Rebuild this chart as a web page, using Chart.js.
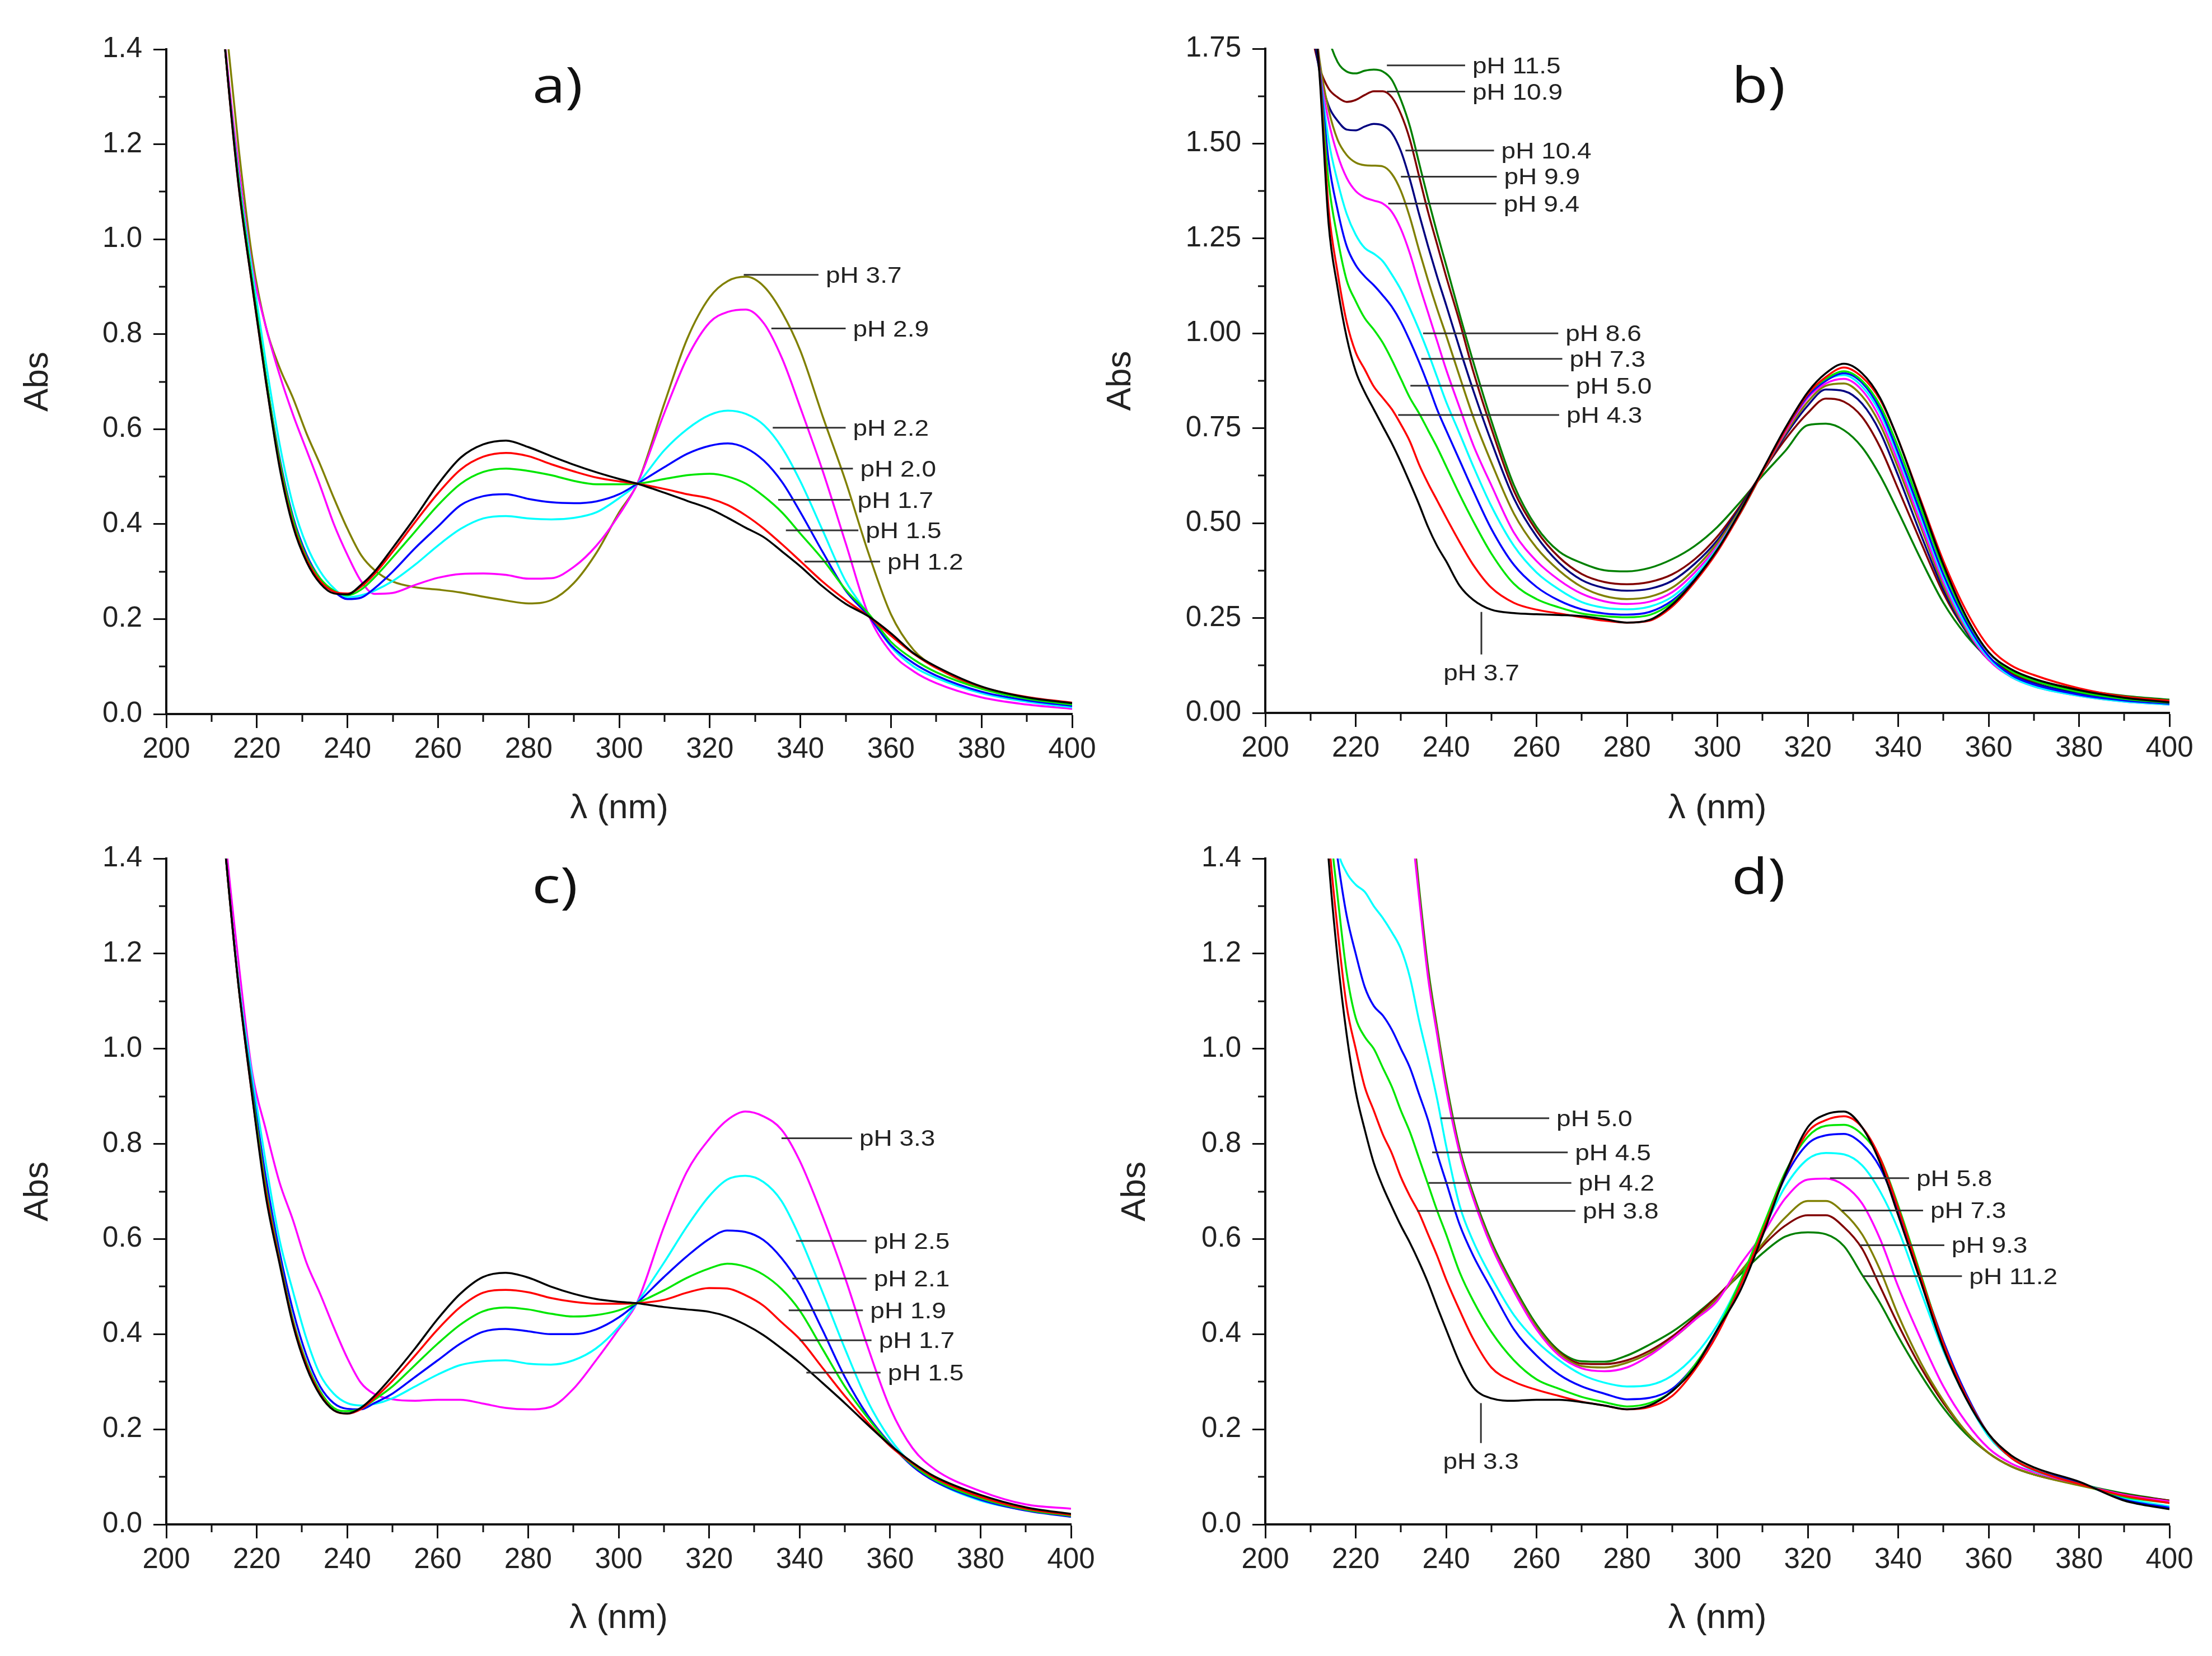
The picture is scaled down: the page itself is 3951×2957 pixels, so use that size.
<!DOCTYPE html>
<html>
<head>
<meta charset="utf-8">
<script src="https://cdn.jsdelivr.net/npm/chart.js@4.4.1/dist/chart.umd.min.js"></script>
<style>
  html, body { margin: 0; padding: 0; background: #fff; }
  #page { position: relative; width: 3951px; height: 2957px; background: #fff; overflow: hidden; }
  #page canvas { position: absolute; }
</style>
</head>
<body>
<div id="page">
  <canvas id="panelA" width="1975" height="1478" style="left:0px;top:0px"></canvas>
  <canvas id="panelB" width="2011" height="1478" style="left:1940px;top:0px"></canvas>
  <canvas id="panelC" width="1975" height="1479" style="left:0px;top:1478px"></canvas>
  <canvas id="panelD" width="2011" height="1479" style="left:1940px;top:1478px"></canvas>
</div>
<script>
'use strict'

// wavelength grids (nm)
const WL_AC = [210, 213, 216, 219, 222, 225, 228, 231, 234, 237,
               240, 243, 246, 250, 255, 260, 265, 270, 275, 280,
               285, 290, 295, 300, 304, 310, 315, 320, 324, 328,
               332, 336, 340, 345, 350, 355, 360, 365, 370, 380,
               390, 400];
const WL_BD = [210, 212, 214, 216, 218, 220, 222, 224, 226, 228,
               230, 232, 234, 236, 238, 240, 243, 246, 250, 255,
               260, 265, 270, 275, 280, 285, 290, 295, 300, 305,
               310, 315, 320, 324, 328, 332, 336, 340, 345, 350,
               355, 360, 365, 370, 380, 390, 400];

// panel a)
const A_PH12 = [1.75, 1.40, 1.11, 0.90, 0.70, 0.52, 0.395, 0.32, 0.275, 0.254,
                0.252, 0.272, 0.30, 0.35, 0.415, 0.484, 0.54, 0.568, 0.576, 0.562,
                0.543, 0.525, 0.509, 0.495, 0.485, 0.466, 0.449, 0.432, 0.413, 0.392,
                0.372, 0.342, 0.311, 0.268, 0.232, 0.206, 0.17, 0.128, 0.10, 0.058,
                0.035, 0.023];
const A_PH15 = [1.75, 1.40, 1.11, 0.90, 0.70, 0.525, 0.40, 0.325, 0.28, 0.258,
                0.254, 0.268, 0.295, 0.342, 0.405, 0.465, 0.515, 0.542, 0.55, 0.543,
                0.526, 0.511, 0.498, 0.49, 0.485, 0.474, 0.463, 0.454, 0.44, 0.418,
                0.39, 0.357, 0.322, 0.278, 0.24, 0.206, 0.165, 0.127, 0.097, 0.057,
                0.036, 0.024];
const A_PH17 = [1.75, 1.40, 1.12, 0.91, 0.71, 0.535, 0.41, 0.33, 0.285, 0.26,
                0.25, 0.262, 0.288, 0.33, 0.385, 0.44, 0.485, 0.51, 0.517, 0.512,
                0.503, 0.491, 0.484, 0.484, 0.485, 0.495, 0.503, 0.506, 0.50, 0.485,
                0.458, 0.424, 0.38, 0.325, 0.262, 0.212, 0.152, 0.115, 0.088, 0.053,
                0.032, 0.02];
const A_PH20 = [1.75, 1.40, 1.12, 0.91, 0.71, 0.54, 0.415, 0.335, 0.285, 0.258,
                0.242, 0.245, 0.265, 0.30, 0.35, 0.395, 0.44, 0.459, 0.463, 0.453,
                0.446, 0.444, 0.448, 0.463, 0.485, 0.52, 0.548, 0.565, 0.57, 0.56,
                0.533, 0.488, 0.425, 0.34, 0.26, 0.207, 0.145, 0.107, 0.081, 0.047,
                0.029, 0.017];
const A_PH22 = [1.75, 1.40, 1.13, 0.93, 0.74, 0.57, 0.44, 0.355, 0.30, 0.265,
                0.246, 0.25, 0.26, 0.28, 0.315, 0.355, 0.39, 0.412, 0.417, 0.412,
                0.41, 0.413, 0.425, 0.455, 0.485, 0.556, 0.60, 0.63, 0.639, 0.632,
                0.608, 0.56, 0.49, 0.385, 0.28, 0.21, 0.142, 0.10, 0.076, 0.044,
                0.026, 0.014];
const A_PH29 = [1.75, 1.41, 1.15, 0.94, 0.815, 0.715, 0.63, 0.555, 0.48, 0.40,
                0.335, 0.28, 0.253, 0.255, 0.272, 0.287, 0.295, 0.296, 0.293, 0.285,
                0.286, 0.31, 0.355, 0.42, 0.485, 0.635, 0.75, 0.825, 0.847, 0.852,
                0.822, 0.748, 0.645, 0.51, 0.36, 0.21, 0.13, 0.09, 0.065, 0.035,
                0.02, 0.011];
const A_PH37 = [1.80, 1.47, 1.19, 0.96, 0.815, 0.73, 0.665, 0.59, 0.525, 0.455,
                0.39, 0.335, 0.303, 0.279, 0.267, 0.262, 0.256, 0.247, 0.239, 0.233,
                0.24, 0.276, 0.34, 0.425, 0.485, 0.655, 0.79, 0.878, 0.912, 0.921,
                0.90, 0.845, 0.765, 0.625, 0.49, 0.34, 0.21, 0.135, 0.098, 0.055,
                0.033, 0.023];

// panel b)
const B_PH37 = [1.95, 1.68, 1.29, 1.12, 0.99, 0.90, 0.845, 0.80, 0.755, 0.71,
                0.66, 0.606, 0.55, 0.49, 0.44, 0.40, 0.335, 0.298, 0.272, 0.263,
                0.26, 0.258, 0.255, 0.247, 0.238, 0.245, 0.285, 0.35, 0.43, 0.53,
                0.64, 0.75, 0.845, 0.895, 0.92, 0.895, 0.83, 0.72, 0.555, 0.39,
                0.255, 0.16, 0.115, 0.09, 0.06, 0.04, 0.028];
const B_PH43 = [1.95, 1.69, 1.33, 1.16, 1.03, 0.95, 0.905, 0.86, 0.83, 0.80,
                0.76, 0.715, 0.655, 0.605, 0.56, 0.515, 0.45, 0.39, 0.33, 0.29,
                0.272, 0.262, 0.252, 0.243, 0.238, 0.243, 0.28, 0.345, 0.425, 0.525,
                0.635, 0.745, 0.84, 0.885, 0.91, 0.885, 0.825, 0.72, 0.56, 0.40,
                0.27, 0.175, 0.125, 0.10, 0.065, 0.043, 0.032];
const B_PH50 = [1.95, 1.69, 1.40, 1.25, 1.14, 1.085, 1.04, 1.01, 0.975, 0.93,
                0.88, 0.83, 0.79, 0.745, 0.70, 0.65, 0.575, 0.505, 0.42, 0.34,
                0.30, 0.278, 0.262, 0.255, 0.252, 0.258, 0.29, 0.35, 0.43, 0.525,
                0.635, 0.745, 0.84, 0.88, 0.90, 0.875, 0.81, 0.70, 0.54, 0.38,
                0.25, 0.16, 0.11, 0.085, 0.055, 0.037, 0.027];
const B_PH73 = [1.95, 1.70, 1.455, 1.325, 1.23, 1.18, 1.15, 1.127, 1.10, 1.07,
                1.03, 0.98, 0.925, 0.865, 0.80, 0.745, 0.665, 0.585, 0.485, 0.39,
                0.332, 0.296, 0.273, 0.262, 0.259, 0.266, 0.296, 0.352, 0.43, 0.525,
                0.635, 0.745, 0.835, 0.875, 0.895, 0.87, 0.80, 0.685, 0.525, 0.365,
                0.24, 0.15, 0.10, 0.075, 0.048, 0.033, 0.024];
const B_PH86 = [1.95, 1.70, 1.51, 1.40, 1.315, 1.26, 1.225, 1.21, 1.19, 1.155,
                1.115, 1.065, 1.01, 0.95, 0.885, 0.82, 0.736, 0.65, 0.545, 0.44,
                0.37, 0.325, 0.292, 0.277, 0.273, 0.28, 0.306, 0.36, 0.435, 0.53,
                0.635, 0.745, 0.835, 0.877, 0.89, 0.86, 0.79, 0.675, 0.515, 0.355,
                0.23, 0.145, 0.095, 0.07, 0.045, 0.03, 0.022];
const B_PH94 = [1.95, 1.70, 1.56, 1.47, 1.41, 1.375, 1.358, 1.35, 1.342, 1.32,
                1.275, 1.21, 1.13, 1.055, 0.98, 0.905, 0.804, 0.706, 0.60, 0.475,
                0.40, 0.35, 0.314, 0.294, 0.287, 0.293, 0.318, 0.37, 0.44, 0.53,
                0.635, 0.74, 0.83, 0.868, 0.88, 0.85, 0.775, 0.66, 0.50, 0.345,
                0.225, 0.14, 0.095, 0.07, 0.045, 0.03, 0.022];
const B_PH99 = [1.95, 1.72, 1.59, 1.51, 1.47, 1.45, 1.443, 1.442, 1.44, 1.42,
                1.375, 1.305, 1.22, 1.14, 1.065, 0.995, 0.886, 0.78, 0.66, 0.525,
                0.435, 0.375, 0.332, 0.308, 0.30, 0.306, 0.33, 0.38, 0.448, 0.535,
                0.635, 0.735, 0.82, 0.862, 0.868, 0.835, 0.76, 0.645, 0.49, 0.335,
                0.22, 0.14, 0.095, 0.072, 0.047, 0.032, 0.023];
const B_PH104 = [1.85, 1.69, 1.60, 1.56, 1.537, 1.535, 1.545, 1.552, 1.548, 1.528,
                 1.48, 1.405, 1.315, 1.23, 1.15, 1.075, 0.96, 0.85, 0.715, 0.565,
                 0.465, 0.395, 0.35, 0.329, 0.322, 0.327, 0.348, 0.393, 0.455, 0.54,
                 0.635, 0.73, 0.81, 0.852, 0.848, 0.815, 0.74, 0.625, 0.47, 0.325,
                 0.215, 0.14, 0.10, 0.078, 0.052, 0.036, 0.026];
const B_PH109 = [1.80, 1.70, 1.645, 1.622, 1.61, 1.615, 1.628, 1.638, 1.638, 1.622,
                 1.578, 1.51, 1.415, 1.32, 1.235, 1.15, 1.03, 0.90, 0.75, 0.585,
                 0.48, 0.41, 0.366, 0.345, 0.339, 0.345, 0.365, 0.405, 0.465, 0.545,
                 0.635, 0.72, 0.79, 0.828, 0.82, 0.78, 0.70, 0.59, 0.45, 0.315,
                 0.215, 0.145, 0.105, 0.083, 0.058, 0.04, 0.03];
const B_PH115 = [2.10, 1.90, 1.78, 1.715, 1.69, 1.685, 1.692, 1.695, 1.69, 1.668,
                 1.615, 1.545, 1.45, 1.355, 1.265, 1.18, 1.05, 0.925, 0.77, 0.60,
                 0.49, 0.425, 0.395, 0.376, 0.373, 0.382, 0.405, 0.44, 0.49, 0.555,
                 0.625, 0.69, 0.758, 0.762, 0.745, 0.70, 0.625, 0.53, 0.405, 0.29,
                 0.205, 0.145, 0.11, 0.088, 0.062, 0.045, 0.035];

// panel c)
const C_PH15 = [1.75, 1.42, 1.13, 0.90, 0.69, 0.55, 0.42, 0.33, 0.272, 0.24,
                0.233, 0.245, 0.27, 0.312, 0.37, 0.432, 0.485, 0.52, 0.529, 0.519,
                0.50, 0.485, 0.474, 0.468, 0.465, 0.457, 0.452, 0.447, 0.437, 0.42,
                0.398, 0.37, 0.34, 0.298, 0.255, 0.21, 0.167, 0.13, 0.10, 0.062,
                0.036, 0.022];
const C_PH17 = [1.75, 1.42, 1.13, 0.90, 0.70, 0.555, 0.425, 0.335, 0.275, 0.24,
                0.233, 0.242, 0.265, 0.302, 0.355, 0.41, 0.457, 0.487, 0.493, 0.488,
                0.476, 0.468, 0.464, 0.464, 0.465, 0.472, 0.487, 0.497, 0.496, 0.482,
                0.46, 0.425, 0.39, 0.33, 0.27, 0.215, 0.165, 0.128, 0.097, 0.058,
                0.033, 0.02];
const C_PH19 = [1.75, 1.42, 1.13, 0.91, 0.71, 0.56, 0.43, 0.34, 0.28, 0.245,
                0.238, 0.243, 0.262, 0.29, 0.335, 0.38, 0.42, 0.448, 0.456, 0.452,
                0.443, 0.437, 0.44, 0.45, 0.465, 0.492, 0.518, 0.538, 0.548, 0.542,
                0.525, 0.495, 0.45, 0.37, 0.29, 0.225, 0.168, 0.125, 0.093, 0.055,
                0.031, 0.018];
const C_PH21 = [1.75, 1.42, 1.13, 0.92, 0.73, 0.575, 0.45, 0.355, 0.29, 0.255,
                0.243, 0.242, 0.255, 0.275, 0.31, 0.345, 0.38, 0.405, 0.411, 0.406,
                0.40, 0.40, 0.41, 0.435, 0.465, 0.52, 0.563, 0.60, 0.618, 0.615,
                0.598, 0.56, 0.505, 0.41, 0.31, 0.23, 0.17, 0.122, 0.09, 0.052,
                0.029, 0.016];
const C_PH25 = [1.75, 1.42, 1.14, 0.94, 0.76, 0.60, 0.49, 0.39, 0.315, 0.275,
                0.255, 0.25, 0.253, 0.265, 0.29, 0.315, 0.335, 0.343, 0.345, 0.338,
                0.336, 0.345, 0.37, 0.415, 0.465, 0.55, 0.625, 0.69, 0.725, 0.733,
                0.72, 0.68, 0.605, 0.49, 0.37, 0.26, 0.18, 0.125, 0.09, 0.05,
                0.03, 0.019];
const C_PH33 = [1.80, 1.45, 1.18, 0.95, 0.83, 0.72, 0.64, 0.55, 0.485, 0.415,
                0.35, 0.298, 0.274, 0.263, 0.26, 0.262, 0.262, 0.254, 0.245, 0.242,
                0.247, 0.285, 0.345, 0.41, 0.465, 0.625, 0.74, 0.81, 0.85, 0.868,
                0.858, 0.83, 0.765, 0.65, 0.52, 0.375, 0.245, 0.16, 0.115, 0.07,
                0.042, 0.033];

// panel d)
const D_PH33 = [2.0, 1.70, 1.40, 1.19, 1.03, 0.91, 0.83, 0.76, 0.71, 0.668,
                0.628, 0.592, 0.552, 0.508, 0.458, 0.41, 0.34, 0.288, 0.265, 0.26,
                0.262, 0.262, 0.257, 0.25, 0.242, 0.25, 0.28, 0.33, 0.41, 0.49,
                0.607, 0.735, 0.835, 0.862, 0.868, 0.835, 0.76, 0.65, 0.51, 0.37,
                0.265, 0.19, 0.145, 0.12, 0.09, 0.05, 0.032];
const D_PH38 = [2.0, 1.75, 1.45, 1.25, 1.09, 1.0, 0.92, 0.87, 0.82, 0.78,
                0.73, 0.69, 0.655, 0.61, 0.565, 0.515, 0.45, 0.39, 0.33, 0.30,
                0.283, 0.27, 0.258, 0.25, 0.242, 0.247, 0.27, 0.325, 0.40, 0.50,
                0.615, 0.735, 0.825, 0.85, 0.858, 0.835, 0.77, 0.665, 0.52, 0.38,
                0.27, 0.19, 0.14, 0.115, 0.085, 0.06, 0.045];
const D_PH42 = [2.0, 1.75, 1.50, 1.32, 1.16, 1.065, 1.025, 1.0, 0.96, 0.92,
                0.87, 0.825, 0.77, 0.715, 0.66, 0.61, 0.53, 0.47, 0.405, 0.345,
                0.305, 0.285, 0.268, 0.257, 0.248, 0.255, 0.28, 0.335, 0.41, 0.51,
                0.625, 0.74, 0.815, 0.838, 0.84, 0.82, 0.77, 0.67, 0.525, 0.38,
                0.27, 0.19, 0.14, 0.115, 0.085, 0.058, 0.045];
const D_PH45 = [2.0, 1.76, 1.55, 1.40, 1.28, 1.20, 1.13, 1.09, 1.07, 1.04,
                1.0, 0.96, 0.905, 0.85, 0.78, 0.72, 0.63, 0.565, 0.495, 0.41,
                0.355, 0.315, 0.29, 0.275, 0.263, 0.266, 0.285, 0.335, 0.405, 0.505,
                0.615, 0.73, 0.80, 0.818, 0.821, 0.80, 0.75, 0.66, 0.52, 0.385,
                0.275, 0.19, 0.14, 0.115, 0.088, 0.052, 0.035];
const D_PH50 = [2.0, 1.75, 1.55, 1.42, 1.37, 1.345, 1.33, 1.30, 1.275, 1.245,
                1.21, 1.15, 1.06, 0.98, 0.895, 0.796, 0.67, 0.595, 0.52, 0.44,
                0.385, 0.345, 0.315, 0.298, 0.29, 0.293, 0.313, 0.355, 0.42, 0.51,
                0.615, 0.71, 0.768, 0.781, 0.778, 0.755, 0.70, 0.62, 0.49, 0.365,
                0.265, 0.185, 0.14, 0.113, 0.088, 0.055, 0.038];
const D_PH58 = [2.6, 2.5, 2.4, 2.3, 2.25, 2.2, 2.15, 2.1, 2.05, 1.9,
                1.7, 1.5, 1.32, 1.15, 1.03, 0.915, 0.78, 0.685, 0.585, 0.49,
                0.41, 0.355, 0.328, 0.322, 0.33, 0.355, 0.39, 0.43, 0.47, 0.545,
                0.61, 0.685, 0.725, 0.727, 0.713, 0.675, 0.60, 0.50, 0.39, 0.29,
                0.215, 0.16, 0.128, 0.11, 0.085, 0.062, 0.048];
const D_PH73 = [2.6, 2.5, 2.4, 2.3, 2.25, 2.2, 2.15, 2.1, 2.05, 1.92,
                1.72, 1.52, 1.33, 1.16, 1.04, 0.923, 0.785, 0.69, 0.59, 0.495,
                0.415, 0.36, 0.333, 0.33, 0.34, 0.36, 0.39, 0.43, 0.475, 0.53,
                0.59, 0.645, 0.68, 0.68, 0.655, 0.61, 0.535, 0.44, 0.34, 0.26,
                0.195, 0.15, 0.122, 0.105, 0.082, 0.062, 0.048];
const D_PH93 = [2.6, 2.5, 2.4, 2.3, 2.25, 2.2, 2.15, 2.1, 2.05, 1.92,
                1.72, 1.52, 1.33, 1.16, 1.04, 0.923, 0.785, 0.69, 0.59, 0.495,
                0.415, 0.362, 0.338, 0.337, 0.345, 0.365, 0.395, 0.435, 0.48, 0.53,
                0.585, 0.628, 0.65, 0.65, 0.625, 0.58, 0.50, 0.42, 0.33, 0.255,
                0.195, 0.15, 0.122, 0.105, 0.083, 0.063, 0.05];
const D_PH112 = [2.6, 2.5, 2.4, 2.3, 2.25, 2.2, 2.15, 2.1, 2.05, 1.93,
                 1.73, 1.53, 1.34, 1.17, 1.045, 0.93, 0.79, 0.695, 0.595, 0.50,
                 0.42, 0.365, 0.343, 0.342, 0.355, 0.378, 0.405, 0.44, 0.48, 0.525,
                 0.57, 0.605, 0.614, 0.61, 0.585, 0.525, 0.465, 0.395, 0.315, 0.245,
                 0.19, 0.15, 0.122, 0.105, 0.085, 0.065, 0.05];

// curve labels: [text, x start, x end, y] or [text, x, y top, y bottom, 'v']
const LABELS_A = [
    ['pH 3.7', 327.5, 344.0, 0.925],
    ['pH 2.9', 333.6, 350.0, 0.812],
    ['pH 2.2', 333.9, 350.0, 0.603],
    ['pH 2.0', 335.5, 351.6, 0.517],
    ['pH 1.7', 335.1, 351.0, 0.451],
    ['pH 1.5', 336.8, 352.8, 0.387],
    ['pH 1.2', 340.9, 357.6, 0.321]
];
const LABELS_B = [
    ['pH 11.5', 226.9, 244.2, 1.706],
    ['pH 10.9', 226.9, 244.2, 1.637],
    ['pH 10.4', 231.0, 250.6, 1.482],
    ['pH 9.9', 230.0, 251.2, 1.413],
    ['pH 9.4', 227.2, 251.1, 1.342],
    ['pH 8.6', 234.9, 264.8, 1.000],
    ['pH 7.3', 234.5, 265.7, 0.933],
    ['pH 5.0', 232.1, 267.1, 0.862],
    ['pH 4.3', 229.4, 265.0, 0.785],
    ['pH 3.7', 247.8, 0.266, 0.154, 'v']
];
const LABELS_C = [
    ['pH 3.3', 336.0, 351.6, 0.812],
    ['pH 2.5', 339.2, 354.8, 0.596],
    ['pH 2.1', 338.4, 354.8, 0.517],
    ['pH 1.9', 337.6, 354.0, 0.450],
    ['pH 1.7', 340.0, 355.9, 0.387],
    ['pH 1.5', 341.5, 357.9, 0.319]
];
const LABELS_D = [
    ['pH 5.0', 238.8, 262.8, 0.854],
    ['pH 4.5', 236.9, 266.9, 0.782],
    ['pH 4.2', 236.1, 267.7, 0.718],
    ['pH 3.8', 233.6, 268.6, 0.659],
    ['pH 5.8', 324.9, 342.4, 0.728],
    ['pH 7.3', 327.5, 345.5, 0.660],
    ['pH 9.3', 331.5, 350.2, 0.587],
    ['pH 11.2', 332.2, 354.1, 0.522],
    ['pH 3.3', 247.7, 0.255, 0.171, 'v']
];

const BLACK = '#000000', RED = '#ff0000', GREEN = '#00e600', BLUE = '#0000ff',
      CYAN = '#00ffff', MAGENTA = '#ff00ff', OLIVE = '#808000', NAVY = '#000080',
      WINE = '#800000', DKGREEN = '#008000';

const SANS = '"Liberation Sans", Arial, sans-serif';
const TICK_FONT = { family: SANS, size: 51 };
const TITLE_FONT = { family: SANS, size: 62, lineHeight: 1 };

// small minor ticks between the labelled ones
const minorTicks = {
    id: 'minorTicks',
    afterDraw(chart) {
        const ctx = chart.ctx;
        const xs = chart.scales.x, ys = chart.scales.y;
        const xStep = chart.options.scales.x.ticks.stepSize;
        const yStep = chart.options.scales.y.ticks.stepSize;
        ctx.save();
        ctx.strokeStyle = '#111';
        ctx.lineWidth = 3;
        ctx.beginPath();
        for (let v = xs.min + xStep / 2; v < xs.max; v += xStep) {
            const px = Math.round(xs.getPixelForValue(v));
            ctx.moveTo(px, xs.top);
            ctx.lineTo(px, xs.top + 14);
        }
        for (let v = ys.min + yStep / 2; v < ys.max; v += yStep) {
            const py = Math.round(ys.getPixelForValue(v));
            ctx.moveTo(ys.right, py);
            ctx.lineTo(ys.right - 13, py);
        }
        ctx.stroke();
        ctx.restore();
    }
};

function stretchedText(ctx, text, x, y, sx, align) {
    ctx.save();
    ctx.translate(x, y);
    ctx.scale(sx, 1);
    ctx.textAlign = align;
    ctx.fillText(text, 0, 0);
    ctx.restore();
}

// leader lines + "pH x.x" texts
function labelPlugin(items) {
    return {
        id: 'phLabels',
        afterDatasetsDraw(chart) {
            const { ctx, scales: { x, y } } = chart;
            ctx.save();
            ctx.strokeStyle = '#333';
            ctx.lineWidth = 3;
            ctx.fillStyle = '#222';
            ctx.font = '40px ' + SANS;
            ctx.textBaseline = 'alphabetic';
            items.forEach(it => {
                if (it[4] === 'v') {
                    const px = x.getPixelForValue(it[1]);
                    const p0 = y.getPixelForValue(it[2]);
                    const p1 = y.getPixelForValue(it[3]);
                    ctx.beginPath();
                    ctx.moveTo(px, p0);
                    ctx.lineTo(px, p1);
                    ctx.stroke();
                    stretchedText(ctx, it[0], px, p1 + 46, 1.15, 'center');
                } else {
                    const p0 = x.getPixelForValue(it[1]);
                    const p1 = x.getPixelForValue(it[2]);
                    const py = y.getPixelForValue(it[3]);
                    ctx.beginPath();
                    ctx.moveTo(p0, py);
                    ctx.lineTo(p1, py);
                    ctx.stroke();
                    stretchedText(ctx, it[0], p1 + 13, py + 14, 1.15, 'left');
                }
            });
            ctx.restore();
        }
    };
}

// big "a)" ... "d)" tags
function tagPlugin(text, dx, dy) {
    return {
        id: 'panelTag',
        afterDraw(chart) {
            const { ctx, chartArea } = chart;
            ctx.save();
            ctx.fillStyle = '#111';
            ctx.font = '88px "Open Sans", "Noto Sans", sans-serif';
            ctx.textBaseline = 'alphabetic';
            stretchedText(ctx, text, chartArea.left + dx, chartArea.top + dy + 23, 1.2, 'center');
            ctx.restore();
        }
    };
}

function spectra(wl, series, colors) {
    return series.map((s, i) => ({
        data: wl.map((x, j) => ({ x: x, y: s[j] })),
        borderColor: colors[i],
        borderWidth: 3.5,
        pointRadius: 0,
        cubicInterpolationMode: 'monotone',
        fill: false
    }));
}

function makePanel(id, p) {
    return new Chart(document.getElementById(id), {
        type: 'line',
        data: { datasets: spectra(p.wl, p.series, p.colors) },
        options: {
            responsive: false,
            animation: false,
            events: [],
            layout: { padding: { left: 0, top: p.top, right: p.right, bottom: 0 } },
            plugins: { legend: { display: false }, tooltip: { enabled: false } },
            scales: {
                x: {
                    type: 'linear', min: 200, max: 400,
                    ticks: { stepSize: 20, color: '#222', font: TICK_FONT, padding: 8, maxRotation: 0, autoSkip: false },
                    grid: { drawOnChartArea: false, drawTicks: true, tickLength: 25, tickWidth: 3, tickColor: '#111' },
                    border: { display: true, color: '#111', width: 4 },
                    title: { display: true, text: 'λ (nm)', color: '#222', font: TITLE_FONT, padding: { top: 0, bottom: p.xTitlePad } },
                    afterFit: s => { s.height = p.xH; }
                },
                y: {
                    type: 'linear', min: 0, max: p.yMax,
                    ticks: { stepSize: p.yStep, color: '#222', font: TICK_FONT, padding: 20, autoSkip: false,
                             callback: v => v.toFixed(p.dec) },
                    grid: { drawOnChartArea: false, drawTicks: true, tickLength: 23, tickWidth: 3, tickColor: '#111' },
                    border: { display: true, color: '#111', width: 4 },
                    title: { display: true, text: 'Abs', color: '#222', font: TITLE_FONT, padding: { top: p.yTitlePad, bottom: 0 } },
                    afterFit: s => { s.width = p.yW; }
                }
            }
        },
        plugins: [minorTicks, labelPlugin(p.labels), tagPlugin(p.tag, p.tagX, p.tagY)]
    });
}

makePanel('panelA', {
    wl: WL_AC,
    series: [A_PH12, A_PH15, A_PH17, A_PH20, A_PH22, A_PH29, A_PH37],
    colors: [BLACK, RED, GREEN, BLUE, CYAN, MAGENTA, OLIVE],
    labels: LABELS_A, tag: 'a)', tagX: 699, tagY: 72,
    top: 88, right: 60, xH: 203, yW: 297, yMax: 1.4, yStep: 0.2, dec: 1,
    xTitlePad: 3, yTitlePad: 37
});
makePanel('panelB', {
    wl: WL_BD,
    series: [B_PH37, B_PH43, B_PH50, B_PH73, B_PH86, B_PH94, B_PH99, B_PH104, B_PH109, B_PH115],
    colors: [BLACK, RED, GREEN, BLUE, CYAN, MAGENTA, OLIVE, NAVY, WINE, DKGREEN],
    labels: LABELS_B, tag: 'b)', tagX: 881, tagY: 73,
    top: 87, right: 76, xH: 205, yW: 320, yMax: 1.75, yStep: 0.25, dec: 2,
    xTitlePad: 3, yTitlePad: 31
});
makePanel('panelC', {
    wl: WL_AC,
    series: [C_PH15, C_PH17, C_PH19, C_PH21, C_PH25, C_PH33],
    colors: [BLACK, RED, GREEN, BLUE, CYAN, MAGENTA],
    labels: LABELS_C, tag: 'c)', tagX: 694, tagY: 56,
    top: 55, right: 62, xH: 235, yW: 297, yMax: 1.4, yStep: 0.2, dec: 1,
    xTitlePad: 36, yTitlePad: 37
});
makePanel('panelD', {
    wl: WL_BD,
    series: [D_PH33, D_PH38, D_PH42, D_PH45, D_PH50, D_PH58, D_PH73, D_PH93, D_PH112],
    colors: [BLACK, RED, GREEN, BLUE, CYAN, MAGENTA, OLIVE, WINE, DKGREEN],
    labels: LABELS_D, tag: 'd)', tagX: 881, tagY: 40,
    top: 55, right: 76, xH: 235, yW: 320, yMax: 1.4, yStep: 0.2, dec: 1,
    xTitlePad: 36, yTitlePad: 57
});
</script>
</body>
</html>
